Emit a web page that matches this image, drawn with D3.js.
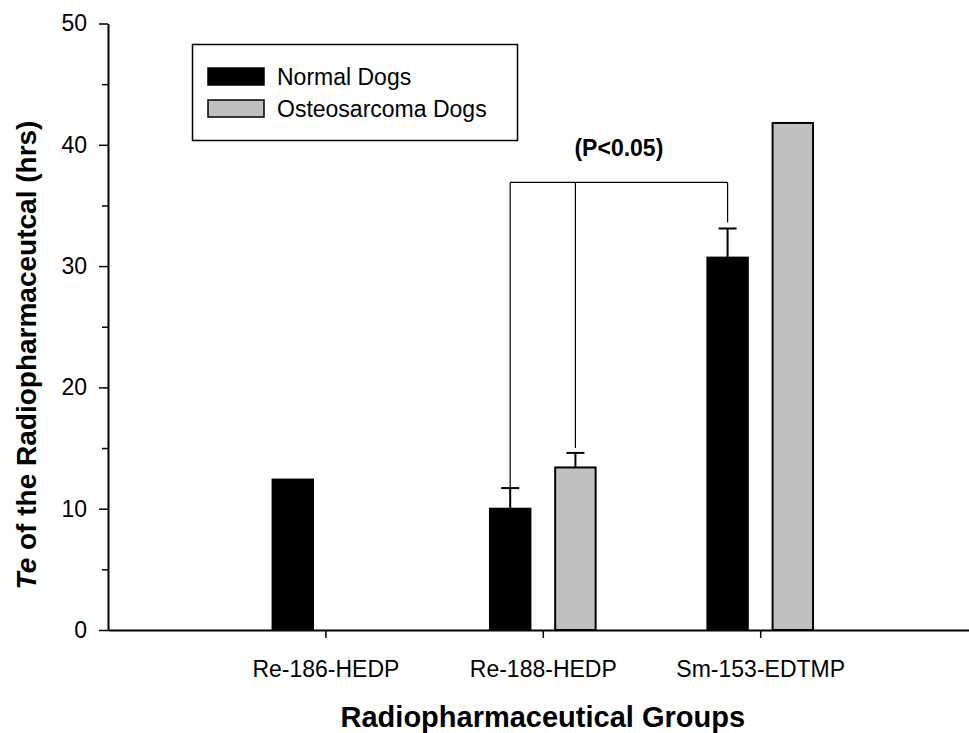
<!DOCTYPE html>
<html>
<head>
<meta charset="utf-8">
<script src="https://cdn.jsdelivr.net/npm/d3@7"></script>
<style>
  html, body { margin: 0; padding: 0; background: #fff; }
  svg { display: block; }
  text { font-family: "Liberation Sans", Arial, sans-serif; fill: #000; }
</style>
</head>
<body>
<div id="chart"></div>
<script>
// Effective half-life by radiopharmaceutical group
const categories = ["Re-186-HEDP", "Re-188-HEDP", "Sm-153-EDTMP"];
const seriesNames = ["Normal Dogs", "Osteosarcoma Dogs"];
const normalDogs = [12.4, 10.0, 30.7];
const normalErr = [null, 1.7, 2.4];
const osteoDogs = [null, 13.4, 41.8];
const osteoErr = [null, 1.2, null];
const yTicks = [0, 10, 20, 30, 40, 50];
const yMinorTicks = [5, 15, 25, 35, 45];
// significance bracket: [category index, series index, lower end of drop line]
const bracketDrops = [[1, 0, 11.7], [1, 1, 15.0], [2, 0, 33.6]];
const bracketLevel = 36.9;
const bracketLabel = "(P<0.05)";

const W = 969, H = 733;
const svg = d3.select("#chart").append("svg").attr("width", W).attr("height", H);

const x = d3.scaleLinear().domain([0, 4]).range([108, 977.6]);
const y = d3.scaleLinear().domain([0, 50]).range([630, 23.5]);

const barW = 0.186, offset = 0.15;
const series = [
  { name: seriesNames[0], values: normalDogs, err: normalErr, fill: "#000", dx: -offset },
  { name: seriesNames[1], values: osteoDogs, err: osteoErr, fill: "#c0c0c0", dx: offset }
];
const center = (ci, si) => x(ci + 1 + series[si].dx);

// bars
series.forEach((s, si) => {
  const data = s.values.map((v, i) => ({ v, i, e: s.err[i] })).filter(d => d.v != null);
  svg.append("g").selectAll("rect").data(data).join("rect")
    .attr("x", d => x(d.i + 1 + s.dx - barW / 2))
    .attr("width", d => x(barW) - x(0))
    .attr("y", d => y(d.v))
    .attr("height", d => y(0) - y(d.v))
    .attr("fill", s.fill)
    .attr("stroke", "#000")
    .attr("stroke-width", 2);

  // upward error bars
  const eb = svg.append("g").attr("stroke", "#000").attr("stroke-width", 2);
  data.filter(d => d.e != null).forEach(d => {
    const cx = center(d.i, si);
    eb.append("line").attr("x1", cx).attr("x2", cx).attr("y1", y(d.v)).attr("y2", y(d.v + d.e));
    eb.append("line").attr("x1", cx - 9).attr("x2", cx + 9).attr("y1", y(d.v + d.e)).attr("y2", y(d.v + d.e));
  });
});

// significance bracket
const br = svg.append("g").attr("stroke", "#000").attr("stroke-width", 1.2).attr("fill", "none");
const bxs = bracketDrops.map(d => center(d[0], d[1]));
br.append("line").attr("x1", d3.min(bxs)).attr("x2", d3.max(bxs))
  .attr("y1", y(bracketLevel)).attr("y2", y(bracketLevel));
bracketDrops.forEach((d, k) => {
  br.append("line").attr("x1", bxs[k]).attr("x2", bxs[k])
    .attr("y1", y(bracketLevel)).attr("y2", y(d[2]));
});
svg.append("text")
  .attr("x", (d3.min(bxs) + d3.max(bxs)) / 2)
  .attr("y", y(bracketLevel) - 26)
  .attr("text-anchor", "middle")
  .attr("font-size", 23).attr("font-weight", "bold")
  .text(bracketLabel);

// axes
svg.append("g").attr("transform", `translate(${x(0)},0)`)
  .call(d3.axisLeft(y).tickValues(yTicks).tickSize(9).tickSizeOuter(0).tickPadding(12));
svg.append("g").attr("transform", `translate(${x(0)},0)`)
  .call(d3.axisLeft(y).tickValues(yMinorTicks).tickSize(6).tickSizeOuter(0).tickFormat(""))
  .call(g => g.select(".domain").remove());

svg.append("g").attr("transform", `translate(0,${y(0)})`)
  .call(d3.axisBottom(x).tickValues([1, 2, 3]).tickFormat(i => categories[i - 1])
    .tickSize(8).tickSizeOuter(0).tickPadding(22.5));

svg.selectAll(".domain").attr("stroke", "#000").attr("stroke-width", 2);
svg.selectAll(".tick line").attr("stroke", "#000").attr("stroke-width", 1.5);
svg.selectAll(".tick text").attr("font-size", 23)
  .attr("font-family", "'Liberation Sans', Arial, sans-serif").attr("fill", "#000");

// axis titles
svg.append("text")
  .attr("x", (x(0) + x(4)) / 2).attr("y", 727)
  .attr("text-anchor", "middle")
  .attr("font-size", 29).attr("font-weight", "bold")
  .text("Radiopharmaceutical Groups");

const yt = svg.append("text")
  .attr("transform", "translate(36,355) rotate(-90)")
  .attr("text-anchor", "middle")
  .attr("font-size", 28).attr("font-weight", "bold");
yt.append("tspan").attr("font-style", "italic").text("Te");
yt.append("tspan").text(" of the Radiopharmaceutcal (hrs)");

// legend
const lg = svg.append("g");
lg.append("rect").attr("x", 192.5).attr("y", 44.5).attr("width", 325).attr("height", 96)
  .attr("fill", "#fff").attr("stroke", "#000").attr("stroke-width", 1.5);
const baselines = [85, 117];
series.forEach((s, si) => {
  lg.append("rect").attr("x", 208).attr("y", baselines[si] - 17).attr("width", 56).attr("height", 17)
    .attr("fill", s.fill).attr("stroke", "#000").attr("stroke-width", 1.5);
  lg.append("text").attr("x", 277).attr("y", baselines[si])
    .attr("font-size", 23).text(s.name);
});
</script>
</body>
</html>
